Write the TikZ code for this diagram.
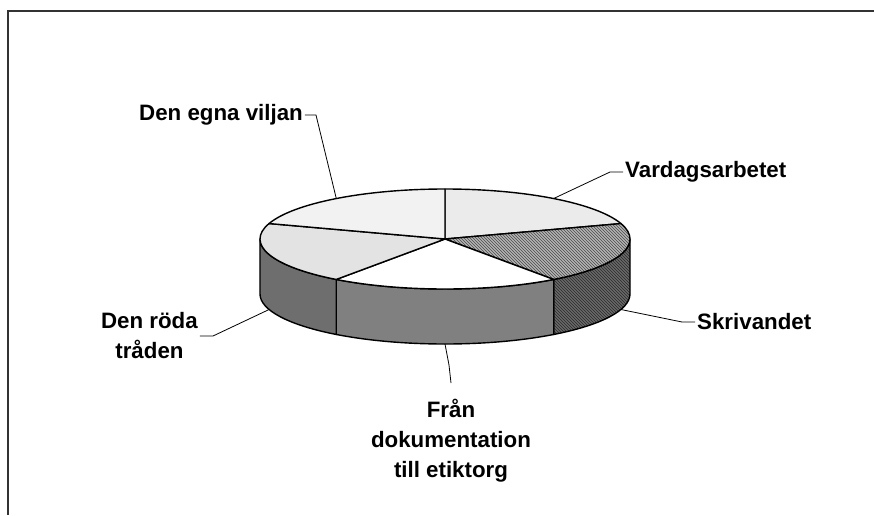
\documentclass[tikz,border=0pt]{standalone}
\usepackage{fontspec}
\setmainfont{Liberation Sans}
\usetikzlibrary{positioning, patterns}

\definecolor{topA}{HTML}{EBEBEB}
\definecolor{topB}{HTML}{B4B4B4}
\definecolor{lineB}{HTML}{4A4A4A}
\definecolor{sideB}{HTML}{6A6A6A}
\definecolor{darkB}{HTML}{2A2A2A}
\definecolor{sideC}{HTML}{808080}
\definecolor{topD}{HTML}{E3E3E3}
\definecolor{sideD}{HTML}{6E6E6E}
\definecolor{topE}{HTML}{F2F2F2}

\tikzset{
    slice/.style={draw=black, line width=1.4pt, line join=round},
    leader/.style={draw=black, line width=0.8pt},
    txt/.style={inner sep=2pt, align=center, font=\bfseries\fontsize{22.3}{30}\selectfont},
    frame/.style={draw=black!80, line width=1.8pt}
}

\begin{document}
\begin{tikzpicture}[x=1pt, y=1pt]
                    \useasboundingbox (-445,-276) rectangle (429,239);
                    \draw[frame] (429,228) -- (-437,228) -- (-437,-276);

                    \filldraw[slice, preaction={fill=sideB}, pattern=north west lines, pattern color=darkB] (-54:185pt and 50pt) arc[start angle=-54, end angle=0, x radius=185pt, y radius=50pt] -- ++(0,-55) arc[start angle=0, end angle=-54, x radius=185pt, y radius=50pt] -- cycle;
                    \filldraw[slice, fill=sideC] (-126:185pt and 50pt) arc[start angle=-126, end angle=-54, x radius=185pt, y radius=50pt] -- ++(0,-55) arc[start angle=-54, end angle=-126, x radius=185pt, y radius=50pt] -- cycle;
                    \filldraw[slice, fill=sideD] (-180:185pt and 50pt) arc[start angle=-180, end angle=-126, x radius=185pt, y radius=50pt] -- ++(0,-55) arc[start angle=-126, end angle=-180, x radius=185pt, y radius=50pt] -- cycle;

                    \filldraw[slice, fill=topA] (0,0) -- (18:185pt and 50pt) arc[start angle=18, end angle=90, x radius=185pt, y radius=50pt] -- cycle;
                    \filldraw[slice, preaction={fill=topB}, pattern=north west lines, pattern color=lineB] (0,0) -- (-54:185pt and 50pt) arc[start angle=-54, end angle=18, x radius=185pt, y radius=50pt] -- cycle;
                    \filldraw[slice, fill=white] (0,0) -- (-126:185pt and 50pt) arc[start angle=-126, end angle=-54, x radius=185pt, y radius=50pt] -- cycle;
                    \filldraw[slice, fill=topD] (0,0) -- (162:185pt and 50pt) arc[start angle=162, end angle=234, x radius=185pt, y radius=50pt] -- cycle;
                    \filldraw[slice, fill=topE] (0,0) -- (90:185pt and 50pt) arc[start angle=90, end angle=162, x radius=185pt, y radius=50pt] -- cycle;

                    \coordinate (11) at (-108.7,40.5);
                    \coordinate (12) at (-129,124);
                    \node[txt] (1) [left=11pt of 12] {Den egna viljan};

                    \coordinate (21) at (108.7,40.5);
                    \coordinate (22) at (165,67);
                    \node[txt] (2) [right=13pt of 22] {Vardagsarbetet};

                    \coordinate (31) at (175.9,-70.5);
                    \coordinate (32) at (237,-83);
                    \node[txt] (3) [right=13pt of 32] {Skrivandet};

                    \coordinate (41) at (0,-105);
                    \coordinate (42) at (4,-126);
                    \coordinate (43) at (6,-144);
                    \node[txt] (4) [below=14pt of 43] {Från\\dokumentation\\till etiktorg};

                    \coordinate (51) at (-175.9,-70.5);
                    \coordinate (52) at (-232,-97);
                    \node[txt] (5) [left=13pt of 52] {Den röda\\tråden};

                    \draw[leader] (11) -- (12) -- (1);
                    \draw[leader] (21) -- (22) -- (2);
                    \draw[leader] (31) -- (32) -- (3);
                    \draw[leader] (41) -- (42) -- (43);
                    \draw[leader] (51) -- (52) -- (5);
                \end{tikzpicture}
\end{document}
